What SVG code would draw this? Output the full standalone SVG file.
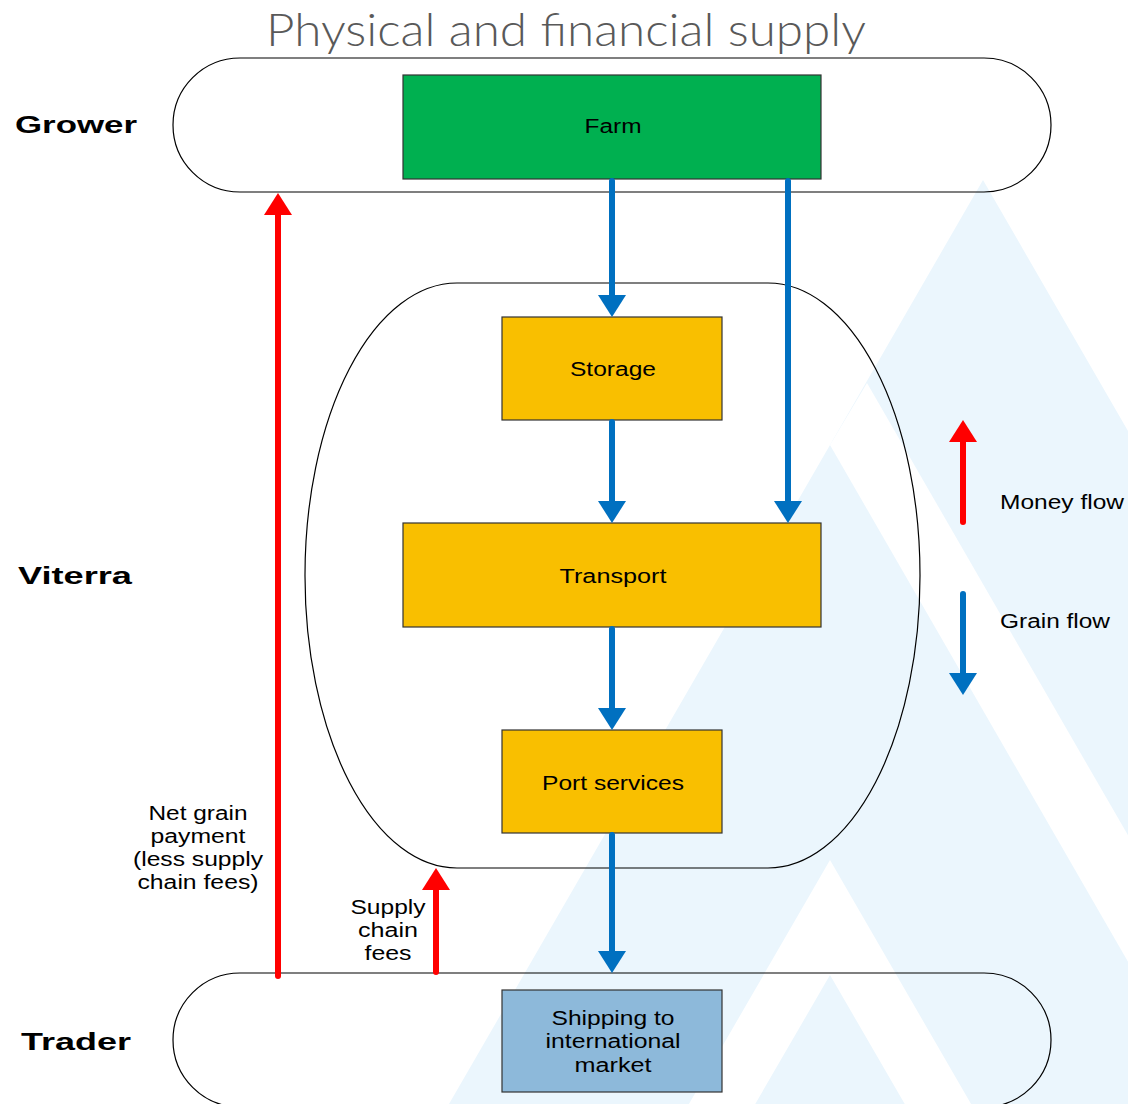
<svg xmlns="http://www.w3.org/2000/svg" width="1128" height="1104" viewBox="0 0 1128 1104">
  <style>
    .title { font-family: "Lato", "Open Sans", "Liberation Sans", sans-serif; font-weight: 300; font-size: 46px; fill: #595959; }
    .tier { font-family: "Liberation Sans", Arial, sans-serif; font-weight: bold; font-size: 23px; fill: #000; }
    .lbl { font-family: "Liberation Sans", Arial, sans-serif; font-size: 20px; fill: #000; }
    .box { stroke: #333; stroke-width: 1.2; }
    .zone { fill: none; stroke: #000; stroke-width: 1.2; }
    .grain { stroke: #0070C0; stroke-width: 6; stroke-linecap: round; fill: none; }
    .money { stroke: #FF0000; stroke-width: 6; stroke-linecap: round; fill: none; }
    .wm { fill: #EBF6FD; }
  </style>
  <defs>
    <marker id="headBlue" markerUnits="userSpaceOnUse" viewBox="0 0 22 28" refX="10" refY="14" markerWidth="22" markerHeight="28" orient="auto">
      <path d="M0,0 L22,14 L0,28 Z" fill="#0070C0"/>
    </marker>
    <marker id="headRed" markerUnits="userSpaceOnUse" viewBox="0 0 22 28" refX="10" refY="14" markerWidth="22" markerHeight="28" orient="auto">
      <path d="M0,0 L22,14 L0,28 Z" fill="#FF0000"/>
    </marker>
  </defs>

  <rect width="1128" height="1104" fill="#fff"/>

  <!-- pale mountain watermark -->
  <g id="watermark">
    <polygon class="wm" points="983,180 1128,431 1128,1104 449,1104 830,445"/>
    <polygon fill="#fff" points="867,383 1283,1104 1210,1104 830,445"/>
    <polygon fill="#fff" points="830,860 1111,1346 1045,1346 830,975 615,1346 549,1346"/>
  </g>

  <text class="title" x="266" y="46" textLength="600" lengthAdjust="spacingAndGlyphs">Physical and financial supply</text>

  <!-- tier outlines -->
  <g id="grower">
    <rect class="zone" x="173" y="58" width="878" height="134" rx="67" ry="67"/>
    <text class="tier" x="76" y="133" text-anchor="middle" textLength="122" lengthAdjust="spacingAndGlyphs">Grower</text>
  </g>
  <g id="viterra">
    <rect class="zone" x="305" y="283" width="615" height="585" rx="152" ry="292"/>
    <text class="tier" x="75" y="584" text-anchor="middle" textLength="114" lengthAdjust="spacingAndGlyphs">Viterra</text>
  </g>
  <g id="trader">
    <rect class="zone" x="173" y="973" width="878" height="134" rx="67" ry="67"/>
    <text class="tier" x="76" y="1050" text-anchor="middle" textLength="110" lengthAdjust="spacingAndGlyphs">Trader</text>
  </g>

  <!-- process boxes -->
  <g id="farm">
    <rect class="box" x="403" y="75" width="418" height="104" fill="#00B050"/>
    <text class="lbl" x="613" y="133" text-anchor="middle" textLength="57" lengthAdjust="spacingAndGlyphs">Farm</text>
  </g>
  <g id="storage">
    <rect class="box" x="502" y="317" width="220" height="103" fill="#F9BF00"/>
    <text class="lbl" x="613" y="376" text-anchor="middle" textLength="86" lengthAdjust="spacingAndGlyphs">Storage</text>
  </g>
  <g id="transport">
    <rect class="box" x="403" y="523" width="418" height="104" fill="#F9BF00"/>
    <text class="lbl" x="613" y="583" text-anchor="middle" textLength="107" lengthAdjust="spacingAndGlyphs">Transport</text>
  </g>
  <g id="port">
    <rect class="box" x="502" y="730" width="220" height="103" fill="#F9BF00"/>
    <text class="lbl" x="613" y="790" text-anchor="middle" textLength="142" lengthAdjust="spacingAndGlyphs">Port services</text>
  </g>
  <g id="shipping">
    <rect class="box" x="502" y="990" width="220" height="102" fill="#8DB9DA"/>
    <text class="lbl" x="613" y="1025" text-anchor="middle" textLength="123" lengthAdjust="spacingAndGlyphs">Shipping to</text>
    <text class="lbl" x="613" y="1048" text-anchor="middle" textLength="135" lengthAdjust="spacingAndGlyphs">international</text>
    <text class="lbl" x="613" y="1072" text-anchor="middle" textLength="77" lengthAdjust="spacingAndGlyphs">market</text>
  </g>

  <!-- flows -->
  <g id="connectors">
    <path class="grain" d="M612,181 V305" marker-end="url(#headBlue)"/>
    <path class="grain" d="M788,181 V511" marker-end="url(#headBlue)"/>
    <path class="grain" d="M612,422 V511" marker-end="url(#headBlue)"/>
    <path class="grain" d="M612,629 V718" marker-end="url(#headBlue)"/>
    <path class="grain" d="M612,835 V961" marker-end="url(#headBlue)"/>
    <path class="money" d="M278,976 V205" marker-end="url(#headRed)"/>
    <path class="money" d="M436,972 V880" marker-end="url(#headRed)"/>
  </g>

  <g id="flow-labels">
    <text class="lbl" x="198" y="820" text-anchor="middle" textLength="99" lengthAdjust="spacingAndGlyphs">Net grain</text>
    <text class="lbl" x="198" y="843" text-anchor="middle" textLength="95" lengthAdjust="spacingAndGlyphs">payment</text>
    <text class="lbl" x="198" y="866" text-anchor="middle" textLength="130" lengthAdjust="spacingAndGlyphs">(less supply</text>
    <text class="lbl" x="198" y="889" text-anchor="middle" textLength="121" lengthAdjust="spacingAndGlyphs">chain fees)</text>
    <text class="lbl" x="388" y="914" text-anchor="middle" textLength="75" lengthAdjust="spacingAndGlyphs">Supply</text>
    <text class="lbl" x="388" y="937" text-anchor="middle" textLength="60" lengthAdjust="spacingAndGlyphs">chain</text>
    <text class="lbl" x="388" y="960" text-anchor="middle" textLength="47" lengthAdjust="spacingAndGlyphs">fees</text>
  </g>

  <!-- legend -->
  <g id="legend">
    <path class="money" d="M963,522 V432" marker-end="url(#headRed)"/>
    <text class="lbl" x="1000" y="509" textLength="124" lengthAdjust="spacingAndGlyphs">Money flow</text>
    <path class="grain" d="M963,594 V683" marker-end="url(#headBlue)"/>
    <text class="lbl" x="1000" y="628" textLength="110" lengthAdjust="spacingAndGlyphs">Grain flow</text>
  </g>
</svg>
